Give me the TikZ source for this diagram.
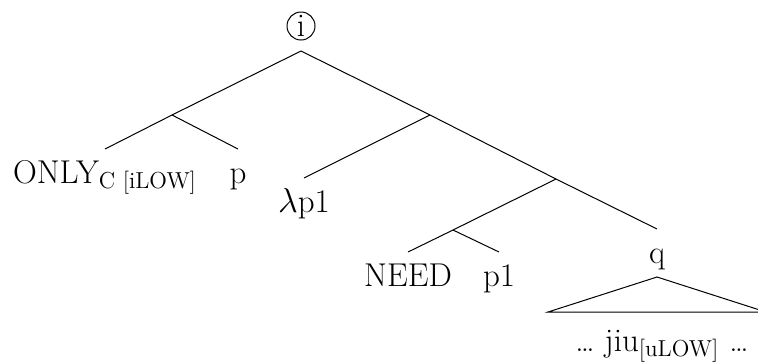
\documentclass[tikz,border=0pt]{standalone}
\usepackage{amsmath}
\begin{document}
\begin{tikzpicture}[x=0.5pt,y=-0.5pt,
  every node/.style={font=\fontsize{16.5}{20}\selectfont},
  leaf/.style={anchor=north, inner xsep=0pt, inner ysep=5.5pt, text height=11.3pt, text depth=3pt},
  edge/.style={line width=0.5pt},
  rootlabel/.style={circle, draw, line width=0.5pt, minimum size=14pt, inner sep=0pt}]
\useasboundingbox (0,0) rectangle (758,361);
% root
\node[rootlabel] (top) at (301,26) {i};
\coordinate (r) at (301,51);
% internal nodes
\coordinate (a) at (172,115);
\coordinate (b) at (430,115);
\coordinate (c) at (556,179);
\coordinate (d) at (453,230);
% leaves
\node[leaf] (only) at (105,149) {ONLY$_{\text{C [iLOW]}}$};
\node[leaf] (p) at (238,149) {p};
\node[leaf] (lam) at (304,178) {$\lambda$p1};
\node[leaf] (need) at (408,252) {NEED};
\node[leaf] (pone) at (499,252) {p1};
\node[leaf] (q) at (657,229) {q};
% triangle
\coordinate (tt) at (657,277);
\coordinate (tl) at (548,312);
\coordinate (tr) at (766,312);
\node[anchor=base] (jiu) at (662,351) {\dots\ jiu$_{\text{[uLOW]}}$ \dots};
% edges
\draw[edge] (r) -- (a);
\draw[edge] (r) -- (b);
\draw[edge] (a) -- (only.north);
\draw[edge] (a) -- (p.north);
\draw[edge] (b) -- (lam.north);
\draw[edge] (b) -- (c);
\draw[edge] (c) -- (d);
\draw[edge] (c) -- (q.north);
\draw[edge] (d) -- (need.north);
\draw[edge] (d) -- (pone.north);
\draw[edge] (tt) -- (tl) -- (tr) -- cycle;
\end{tikzpicture}
\end{document}
